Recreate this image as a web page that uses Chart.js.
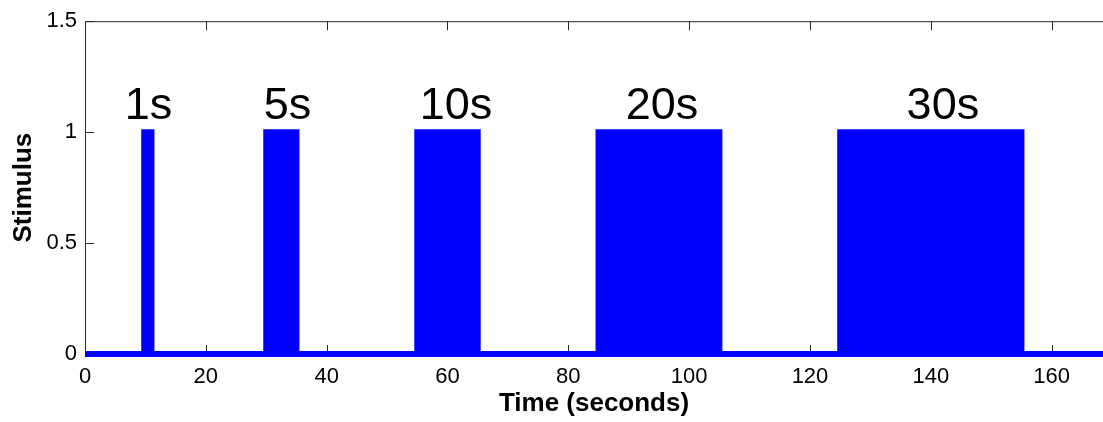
<!DOCTYPE html>
<html>
<head>
<meta charset="utf-8">
<script src="https://cdn.jsdelivr.net/npm/chart.js@4"></script>
<style>
  html, body { margin: 0; padding: 0; background: #fff; }
  #wrap { width: 1103px; height: 422px; }
</style>
</head>
<body>
<div id="wrap"><canvas id="stimChart"></canvas></div>
<script>
// stimulus blocks, onset / offset in seconds
const blockOn = [9.8, 30, 55, 85, 125];
const blockOff = [11, 35, 65, 105, 155];
const tEnd = 170;

// block captions
const blockLabels = ['1s', '5s', '10s', '20s', '30s'];
const labelX = [10.5, 33.5, 61.4, 95.5, 142];
const labelY = 1.06;

// axis ticks
const xTicks = [0, 20, 40, 60, 80, 100, 120, 140, 160];
const yTicks = [0, 0.5, 1, 1.5];

// on/off switch points, drawn as a stepped line
const stim = [{ x: 0, y: 0 }];
blockOn.forEach((on, i) => {
  stim.push({ x: on, y: 1 }, { x: blockOff[i], y: 0 });
});
stim.push({ x: tEnd, y: 0 });

// zero level, runs under the blocks too
const rest = [{ x: 0, y: 0 }, { x: tEnd, y: 0 }];

const FONT = '"Liberation Sans", Arial, Helvetica, sans-serif';
const TICK_LEN = 9;
const BLUE = '#0000ff';
const LINE_W = 6;

// box + inward ticks under the data, captions on top
const frame = {
  id: 'frame',
  beforeDatasetsDraw(chart) {
    const { ctx, chartArea: a, scales: { x, y } } = chart;
    ctx.save();
    ctx.strokeStyle = '#2a2a2a';
    ctx.lineWidth = 1;
    ctx.beginPath();
    ctx.moveTo(a.left + 0.5, a.bottom);
    ctx.lineTo(a.left + 0.5, a.top + 0.5);
    ctx.lineTo(a.right, a.top + 0.5);
    ctx.moveTo(a.left, a.bottom + 0.5);
    ctx.lineTo(a.right, a.bottom + 0.5);
    xTicks.forEach(v => {
      const px = Math.round(x.getPixelForValue(v)) + 0.5;
      ctx.moveTo(px, a.bottom);
      ctx.lineTo(px, a.bottom - TICK_LEN);
      ctx.moveTo(px, a.top);
      ctx.lineTo(px, a.top + TICK_LEN);
    });
    yTicks.forEach(v => {
      const py = Math.round(y.getPixelForValue(v)) + 0.5;
      ctx.moveTo(a.left, py);
      ctx.lineTo(a.left + TICK_LEN, py);
    });
    ctx.stroke();
    ctx.restore();
  },
  afterDatasetsDraw(chart) {
    const { ctx, scales: { x, y } } = chart;
    ctx.save();
    ctx.fillStyle = '#000';
    ctx.font = '45px ' + FONT;
    ctx.textAlign = 'center';
    ctx.textBaseline = 'alphabetic';
    blockLabels.forEach((t, i) => {
      ctx.fillText(t, x.getPixelForValue(labelX[i]), y.getPixelForValue(labelY));
    });
    ctx.restore();
  }
};

const clipY = { left: 0, right: 0, top: 5, bottom: 5 };

new Chart(document.getElementById('stimChart').getContext('2d'), {
  type: 'line',
  data: {
    datasets: [{
      label: 'Stimulus',
      data: stim,
      stepped: true,
      borderColor: BLUE,
      backgroundColor: BLUE,
      borderWidth: LINE_W,
      borderJoinStyle: 'miter',
      fill: 'origin',
      pointRadius: 0,
      clip: clipY
    }, {
      label: 'rest',
      data: rest,
      borderColor: BLUE,
      borderWidth: LINE_W,
      fill: false,
      pointRadius: 0,
      clip: clipY
    }]
  },
  options: {
    animation: false,
    responsive: true,
    maintainAspectRatio: false,
    devicePixelRatio: 1,
    layout: { padding: { top: 18, right: 0, left: 0, bottom: 0 } },
    plugins: { legend: { display: false }, tooltip: { enabled: false } },
    scales: {
      x: {
        type: 'linear',
        min: 0,
        max: 168.5,
        afterBuildTicks: s => { s.ticks = xTicks.map(v => ({ value: v })); },
        afterFit: s => { s.height = 68; },
        grid: { display: false, drawTicks: false },
        border: { display: false },
        ticks: { padding: 10, color: '#000', font: { family: FONT, size: 22 }, maxRotation: 0 },
        title: {
          display: true,
          text: 'Time (seconds)',
          color: '#000',
          font: { family: FONT, size: 26, weight: 'bold' },
          padding: { top: 0, bottom: 3 }
        }
      },
      y: {
        min: 0,
        max: 1.5,
        afterBuildTicks: s => { s.ticks = yTicks.map(v => ({ value: v })); },
        afterFit: s => { s.width = 85; },
        grid: { display: false, drawTicks: false },
        border: { display: false },
        ticks: {
          padding: 8,
          color: '#000',
          font: { family: FONT, size: 22 },
          callback: v => String(v)
        },
        title: {
          display: true,
          text: 'Stimulus',
          color: '#000',
          font: { family: FONT, size: 26, weight: 'bold' },
          padding: { top: 8, bottom: 0 }
        }
      }
    }
  },
  plugins: [frame]
});
</script>
</body>
</html>
